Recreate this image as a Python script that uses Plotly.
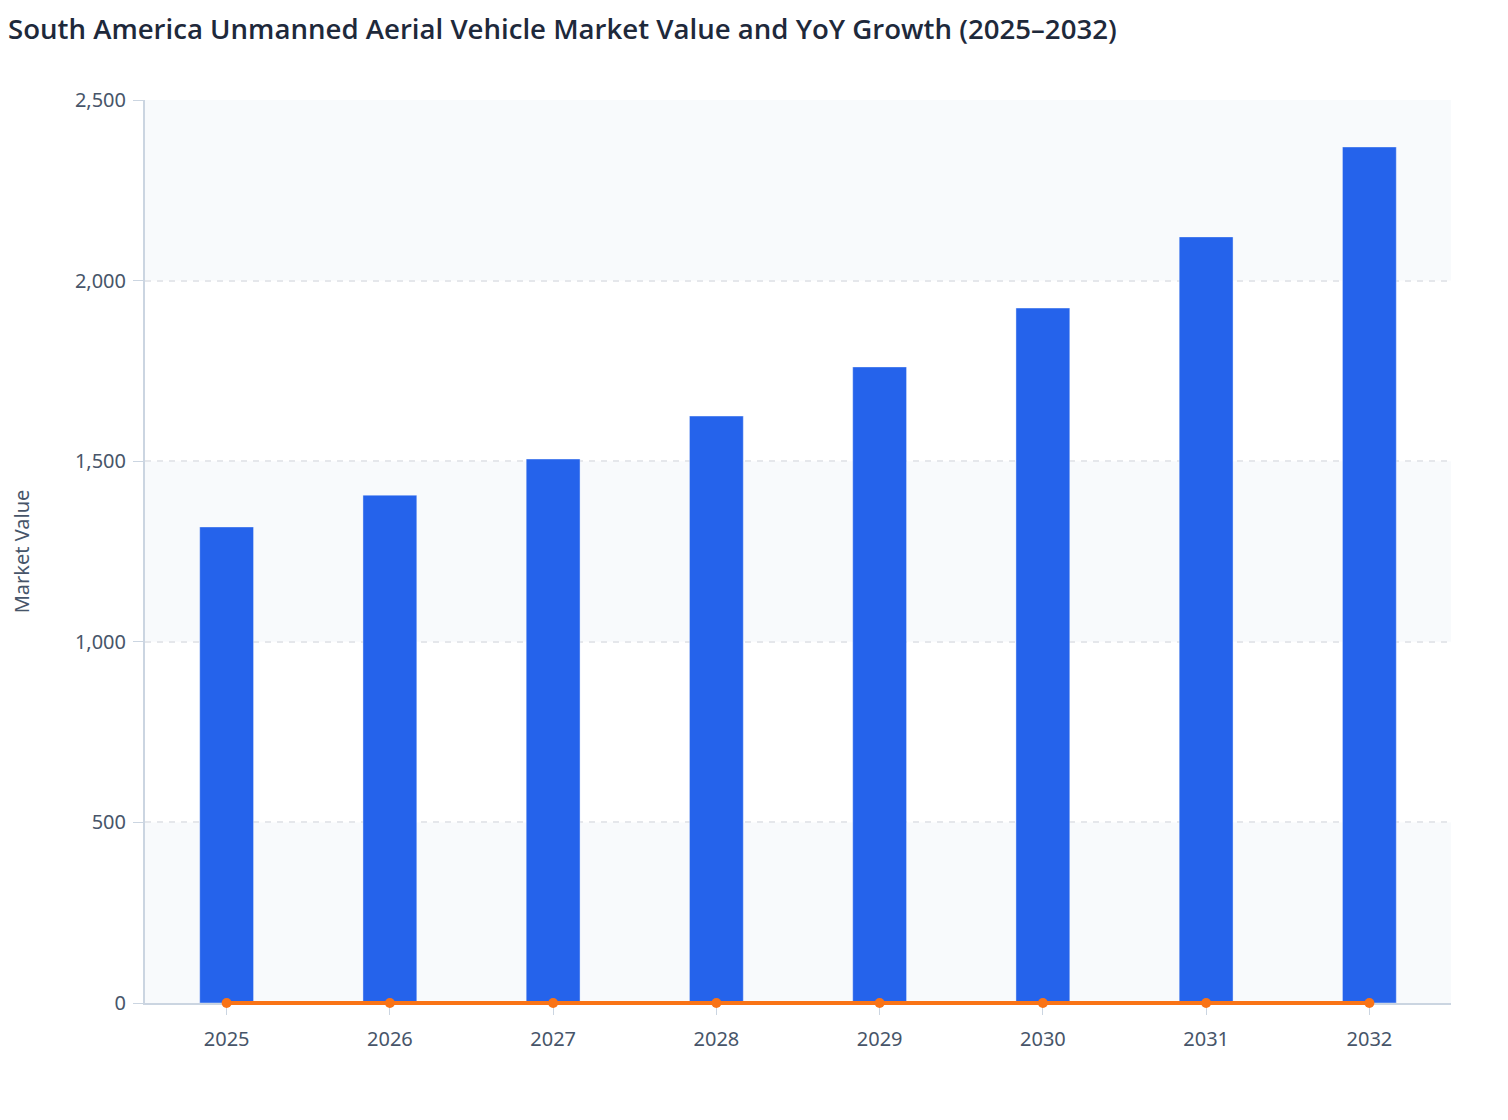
import plotly.graph_objects as go

# Market value per year and YoY growth as a fraction
years = ["2025", "2026", "2027", "2028", "2029", "2030", "2031", "2032"]
market_value = [1318, 1406, 1506, 1625, 1761, 1924, 2121, 2370]
yoy_growth = [0, 0.067, 0.071, 0.079, 0.084, 0.093, 0.102, 0.117]

y_max = 2500
y_step = 500

# growth line sits on a twin subplot that reaches a few px below the
# x axis, so the thick line at zero is not cut in half by the clip
plot_h = 903
pad_px = 12
dom_low = pad_px / (plot_h + pad_px)
y2_low = y_max - y_max / (1 - dom_low)

fig = go.Figure()

fig.add_trace(
    go.Bar(
        x=years,
        y=market_value,
        name="Market Value",
        width=0.33,
        marker=dict(color="#2563EB", line=dict(color="rgba(255,255,255,0.4)", width=1)),
    )
)

fig.add_trace(
    go.Scatter(
        x=years,
        y=yoy_growth,
        name="YoY Growth",
        mode="lines+markers",
        xaxis="x2",
        yaxis="y2",
        cliponaxis=False,
        line=dict(color="#F97316", width=4),
        marker=dict(color="#F97316", size=10),
    )
)

# alternating light bands behind every other grid interval
for i, lo in enumerate(range(0, y_max, y_step)):
    if i % 2 == 0:
        fig.add_shape(
            type="rect",
            xref="paper",
            yref="y",
            x0=0,
            x1=1,
            y0=lo,
            y1=lo + y_step,
            fillcolor="#F8FAFC",
            line=dict(width=0),
            layer="below",
        )

fig.update_layout(
    width=1508,
    height=1120,
    title=dict(
        text="South America Unmanned Aerial Vehicle Market Value and YoY Growth (2025–2032)",
        x=0,
        xanchor="left",
        y=0.981,
        yanchor="middle",
        font=dict(family="Open Sans", size=27.6, color="#1E293B", weight=600),
    ),
    font=dict(family="Noto Sans", size=20, color="#475569"),
    paper_bgcolor="white",
    plot_bgcolor="rgba(0,0,0,0)",
    showlegend=False,
    margin=dict(l=137, r=65, t=92, b=125 - pad_px),
    xaxis=dict(
        type="category",
        showgrid=False,
        showline=True,
        linecolor="#CBD5E1",
        linewidth=2,
        ticks="outside",
        tickcolor="#CBD5E1",
        ticklen=10,
        ticklabelstandoff=7,
        tickfont=dict(size=20, color="#475569"),
        anchor="y",
    ),
    yaxis=dict(
        domain=[dom_low, 1],
        title=dict(text="Market Value", font=dict(size=20, color="#475569"), standoff=64),
        automargin=False,
        range=[0, y_max],
        dtick=y_step,
        tickformat=",",
        showgrid=True,
        gridcolor="#E5E7EB",
        griddash="6px,6px",
        gridwidth=2,
        zeroline=False,
        showline=True,
        linecolor="#CBD5E1",
        linewidth=2,
        ticks="outside",
        tickcolor="#CBD5E1",
        ticklen=10,
        ticklabelstandoff=3,
        tickfont=dict(size=20, color="#475569"),
    ),
    xaxis2=dict(type="category", matches="x", anchor="y2", visible=False),
    yaxis2=dict(domain=[0, 1], range=[y2_low, y_max], anchor="x2", visible=False),
)

fig.write_html("out.html")
